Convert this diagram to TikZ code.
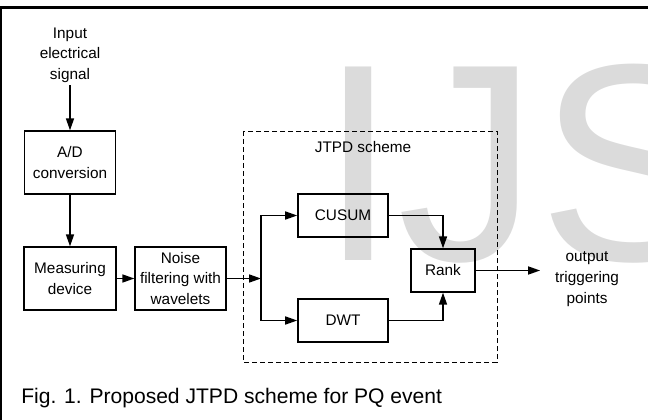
\documentclass[tikz,border=0pt]{standalone}
\usepackage{fontspec}
\setmainfont{Liberation Sans}
\usetikzlibrary{positioning, arrows.meta}

\begin{document}
\begin{tikzpicture}[x=0.75pt, y=-0.75pt]
    % Stili per blocchi, etichette e frecce
    \tikzset{
        blocco/.style={
            draw=black,
            line width=1.2pt,
            align=center,
            inner sep=0pt,
            font=\fontsize{11.5}{15.5}\selectfont
        },
        etichetta/.style={
            align=center,
            inner sep=2pt,
            font=\fontsize{11.5}{15.5}\selectfont
        },
        freccia/.style={
            line width=1.2pt,
            -{Triangle[length=9pt, width=6pt]}
        }
    }
    \useasboundingbox (0,0) rectangle (648,420);

    % --- Filigrana di sfondo ---
    \node[anchor=base west, inner sep=0pt, text=black!14,
          font=\fontsize{211}{211}\selectfont] (filigrana) at (319,260) {IJS};

    % --- Cornice: solo lato superiore e sinistro ---
    \draw[line width=2.25pt] (0,7.5) -- (648,7.5);
    \draw[line width=1.5pt] (1,7.5) -- (1,420);

    % --- Catena di acquisizione ---
    \node[etichetta] (ingresso) at (70,55) {Input\\electrical\\signal};
    \node[blocco, minimum width=68pt, minimum height=47pt] (adc) at (70,162.5) {A/D\\conversion};
    \node[blocco, minimum width=69pt, minimum height=47pt] (misura) at (70,278.5) {Measuring\\device};
    \node[blocco, minimum width=68pt, minimum height=47pt] (filtro) at (180.5,278.5) {Noise\\filtering with\\wavelets};

    % --- Schema JTPD (riquadro tratteggiato) ---
    \draw[line width=0.7pt, dash pattern=on 4pt off 2pt] (243,131) rectangle (497,362);
    \node[etichetta] (titolo) at (363,147) {JTPD scheme};
    \node[blocco, minimum width=67.5pt, minimum height=32pt] (cusum) at (343,215.5) {CUSUM};
    \node[blocco, minimum width=67.5pt, minimum height=32pt] (dwt) at (343,320.5) {DWT};
    \node[blocco, minimum width=48pt, minimum height=32pt] (rank) at (443,270.5) {Rank};
    \coordinate (diram) at (261,278.5);

    % Uscita
    \node[etichetta, inner xsep=11pt] (uscita) at (587,279) {output\\triggering\\points};

    % --- Collegamenti ---
    \draw[freccia] (ingresso) -- (adc);
    \draw[freccia] (adc) -- (misura);
    \draw[freccia] (misura) -- (filtro);
    \draw[freccia] (filtro) -- (diram);
    \draw[freccia] (diram) |- (cusum);
    \draw[freccia] (diram) |- (dwt);
    \draw[freccia] (cusum) -| (rank);
    \draw[freccia] (dwt) -| (rank);
    \draw[freccia] (rank) -- (rank -| uscita.west);

    % Didascalia
    \node[anchor=west, inner sep=0pt, font=\fontsize{15.8}{19}\selectfont] (didascalia) at (21,398)
        {Fig. 1. Proposed JTPD scheme for PQ event};
\end{tikzpicture}
\end{document}
